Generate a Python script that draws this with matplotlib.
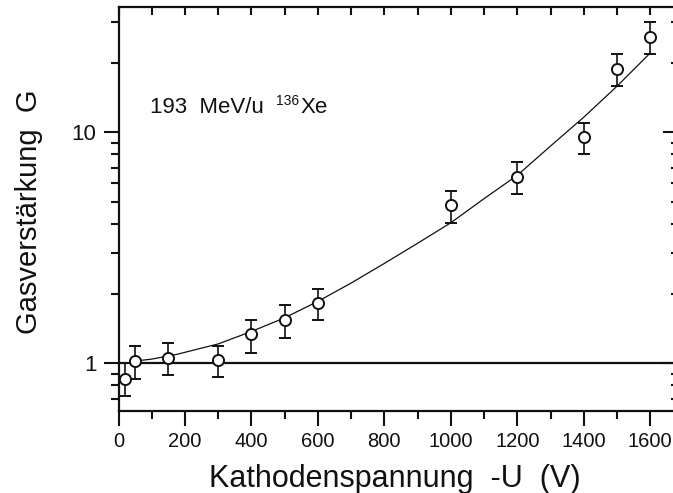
import matplotlib
matplotlib.use("Agg")
import matplotlib.pyplot as plt
from matplotlib.ticker import FixedLocator, NullFormatter, FixedFormatter
from matplotlib.transforms import IdentityTransform

plt.rcParams['font.family'] = ['Liberation Sans', 'DejaVu Sans']

# measured data (cathode voltage -U in V, gas gain G)
voltage = [20, 50, 150, 300, 400, 500, 600, 1000, 1200, 1400, 1500, 1600]
gain = [0.85, 1.02, 1.055, 1.035, 1.33, 1.53, 1.82, 4.84, 6.42, 9.5, 18.8, 25.7]
gain_upper = [1.0, 1.18, 1.225, 1.19, 1.53, 1.775, 2.10, 5.58, 7.41, 11.0, 21.8, 29.9]
gain_lower = [0.717, 0.853, 0.885, 0.867, 1.11, 1.284, 1.53, 4.05, 5.38, 8.03, 15.8, 21.8]

# fitted curve
fit_voltage = [50, 100, 175, 300, 400, 500, 600, 700, 800, 900, 1000, 1100, 1200, 1300, 1400, 1500, 1600]
fit_gain = [1.02, 1.04, 1.09, 1.21, 1.37, 1.57, 1.85, 2.22, 2.7, 3.3, 4.05, 5.15, 6.5, 8.7, 11.6, 15.8, 22.0]

y_major = [1, 10]
y_major_labels = ['1', '10']
y_minor = [0.7, 0.8, 0.9, 2, 3, 4, 5, 6, 7, 8, 9, 20, 30]
x_major = [0, 200, 400, 600, 800, 1000, 1200, 1400, 1600]
x_minor = [100, 300, 500, 700, 900, 1100, 1300, 1500]

W, H = 673, 493
fig = plt.figure(figsize=(W / 100, H / 100), dpi=100)
left, right, top, bottom = 118.5, 673.5, 7, 411
ax = fig.add_axes([left / W, (H - bottom) / H, (right - left) / W, (bottom - top) / H])

ink = '#111111'
ax.set_yscale('log')
ax.set_xlim(0, 1670)
ax.set_ylim(0.62, 34.8)

# reference line at G = 1
ax.axhline(1.0, color=ink, lw=1.6, zorder=2)

# fit curve
ax.plot(fit_voltage, fit_gain, color=ink, lw=0.9, zorder=3)

# data with asymmetric error bars
yerr = [[g - lo for g, lo in zip(gain, gain_lower)], [up - g for g, up in zip(gain, gain_upper)]]
ax.errorbar(voltage, gain, yerr=yerr, fmt='o', ms=8, mfc='white', mec=ink, mew=1.4,
            ecolor=ink, elinewidth=1.2, capsize=4, capthick=1.2, zorder=4)

# spines
for s in ['left', 'bottom', 'top']:
    ax.spines[s].set_linewidth(1.6)
    ax.spines[s].set_color(ink)
ax.spines['right'].set_visible(False)

# left / bottom ticks (outward)
ax.yaxis.set_major_locator(FixedLocator(y_major))
ax.yaxis.set_major_formatter(FixedFormatter(y_major_labels))
ax.yaxis.set_minor_locator(FixedLocator(y_minor))
ax.yaxis.set_minor_formatter(NullFormatter())
ax.xaxis.set_major_locator(FixedLocator(x_major))
ax.xaxis.set_minor_locator(FixedLocator(x_minor))
ax.tick_params(axis='both', which='major', direction='out', length=11, width=1.5,
               colors=ink, pad=4)
ax.tick_params(axis='x', which='major', labelsize=14.5)
ax.tick_params(axis='y', which='major', labelsize=16, pad=5)
ax.tick_params(axis='both', which='minor', direction='out', length=6, width=1.5, colors=ink)

# top ticks (inward)
axt = ax.twiny()
axt.set_xlim(ax.get_xlim())
axt.xaxis.set_major_locator(FixedLocator(x_major + x_minor))
axt.tick_params(axis='x', which='major', direction='in', length=6, width=1.5,
                colors=ink, labeltop=False, labelbottom=False)
axt.xaxis.set_minor_locator(FixedLocator([]))
for s in axt.spines.values():
    s.set_visible(False)

# right ticks (inward)
axr = ax.twinx()
axr.set_yscale('log')
axr.set_ylim(ax.get_ylim())
axr.yaxis.set_major_locator(FixedLocator(y_major))
axr.yaxis.set_minor_locator(FixedLocator(y_minor))
axr.yaxis.set_major_formatter(NullFormatter())
axr.yaxis.set_minor_formatter(NullFormatter())
axr.tick_params(axis='y', which='major', direction='in', length=8, width=1.5, colors=ink)
axr.tick_params(axis='y', which='minor', direction='in', length=2.5, width=1.5, colors=ink)
for s in axr.spines.values():
    s.set_visible(False)

# axis labels
ax.set_xlabel('Kathodenspannung  -U  (V)', fontsize=22, color=ink)
ax.xaxis.label.set_va('baseline')
ax.xaxis.set_label_coords(0.498, (bottom - 487) / (bottom - top))
ax.set_ylabel('Gasverstärkung  G', fontsize=21, color=ink)
ax.yaxis.label.set_va('baseline')
ax.yaxis.set_label_coords((37 - left) / (right - left), (bottom - 211.5) / (bottom - top))

# annotation: 193 MeV/u 136Xe
base_y = H - 113
t1 = fig.text(150, base_y, '193  MeV/u', fontsize=16, color=ink,
              ha='left', va='baseline', transform=IdentityTransform())
fig.canvas.draw()
renderer = fig.canvas.get_renderer()
x1 = t1.get_window_extent(renderer).x1
t2 = fig.text(x1 + 12, base_y + 8, '136', fontsize=10, color=ink,
              ha='left', va='baseline', transform=IdentityTransform())
x2 = t2.get_window_extent(renderer).x1
fig.text(x2 + 2, base_y, 'Xe', fontsize=16, color=ink,
         ha='left', va='baseline', transform=IdentityTransform())

fig.savefig('out.png', dpi=100)
